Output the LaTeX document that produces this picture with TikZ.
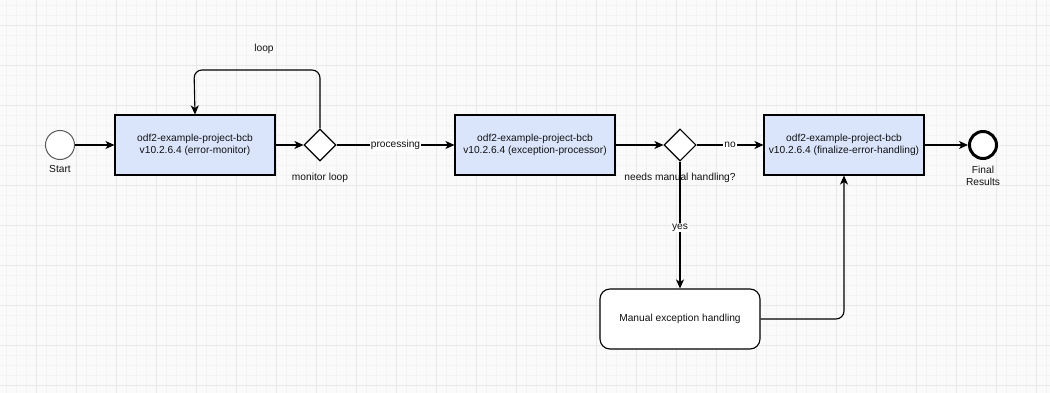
\documentclass[tikz,border=0pt]{standalone}
\usepackage{fontspec}
\setmainfont{Liberation Sans}
\usetikzlibrary{shapes.geometric,arrows.meta}
\definecolor{boxfill}{HTML}{DAE5FC}
\definecolor{bg}{HTML}{FAFAFA}
\definecolor{gridminor}{HTML}{F3F3F3}
\definecolor{gridmajor}{HTML}{E8E8E8}
\definecolor{txt}{HTML}{111111}
\begin{document}
\begin{tikzpicture}[x=1pt,y=-1pt,
  font=\fontsize{10.2}{12}\selectfont, text=txt,
  proc/.style={draw=black, fill=boxfill, line width=1.1pt, minimum width=160pt, minimum height=60pt, align=center, inner sep=0pt},
  manual/.style={draw=black, fill=white, line width=1.1pt, rounded corners=10pt, minimum width=160pt, minimum height=60pt, align=center, inner sep=0pt},
  gate/.style={draw=black, fill=white, diamond, line width=1.1pt, minimum width=32pt, minimum height=32pt, inner sep=0pt},
  startev/.style={draw=black!65, fill=white, circle, line width=1pt, minimum size=29pt, inner sep=0pt},
  endev/.style={draw=black, fill=white, circle, line width=3pt, minimum size=27pt, inner sep=0pt},
  lbl/.style={align=center, inner sep=1pt},
  elbl/.style={fill=white, inner sep=1pt},
  arr/.style={draw=black, line width=1.1pt, -{Stealth[length=9pt,width=8pt,inset=2.5pt]}}
]
\useasboundingbox (0,0) rectangle (1050,393);
\fill[bg] (0,0) rectangle (1050,393);
\foreach \x in {6,16,...,1046} \draw[gridminor, line width=0.6pt] (\x,0) -- (\x,393);
\foreach \y in {5,15,...,385} \draw[gridminor, line width=0.6pt] (0,\y) -- (1050,\y);
\foreach \x in {36,76,...,1036} \draw[gridmajor, line width=0.7pt] (\x,0) -- (\x,393);
\foreach \y in {25,65,...,385} \draw[gridmajor, line width=0.7pt] (0,\y) -- (1050,\y);

\node[startev] (start) at (60,145) {};
\node[lbl] (startl) at (60,169) {Start};
\node[proc] (b1) at (195,145) {odf2-example-project-bcb\\v10.2.6.4 (error-monitor)};
\node[gate] (d1) at (320,145) {};
\node[lbl] (d1l) at (320,178) {monitor loop};
\coordinate (loopc) at (194,70);
\node[lbl] (loopl) at (264,49) {loop};
\node[proc] (b2) at (535,145) {odf2-example-project-bcb\\v10.2.6.4 (exception-processor)};
\node[gate] (d2) at (680,145) {};
\node[lbl] (d2l) at (680,178) {needs manual handling?};
\node[proc] (b3) at (844,145) {odf2-example-project-bcb\\v10.2.6.4 (finalize-error-handling)};
\node[endev] (end) at (983,145) {};
\node[lbl] (endl) at (983,176) {Final\\Results};
\node[manual] (m) at (680,319) {Manual exception handling};

\draw[arr] (start) -- (b1);
\draw[arr] (b1) -- (d1);
\draw[arr, rounded corners=8pt] (d1.north) |- (loopc) -- (b1.north);
\draw[arr] (d1) -- node[elbl] {processing} (b2);
\draw[arr] (b2) -- (d2);
\draw[arr] (d2) -- node[elbl, pos=0.5] {no} (b3);
\draw[arr] (b3) -- (end);
\draw[arr] (d2.south) -- node[elbl, pos=0.52] {yes} (m.north);
\draw[arr, rounded corners=8pt] (m.east) -| (b3.south);
\end{tikzpicture}
\end{document}
